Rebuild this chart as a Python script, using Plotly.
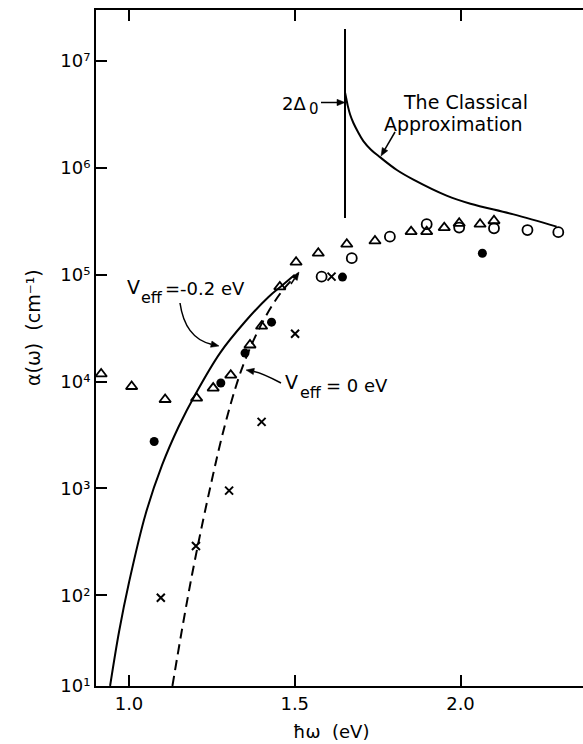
import math
import plotly.graph_objects as go

# ---------------- data ----------------
# open triangles
tri_x = [0.916, 1.008, 1.109, 1.204, 1.254, 1.307, 1.365, 1.400, 1.455, 1.504,
         1.571, 1.657, 1.742, 1.851, 1.898, 1.951, 1.996, 2.059, 2.101]
tri_y = [1.18e4, 9.0e3, 6.8e3, 7.0e3, 8.7e3, 1.15e4, 2.2e4, 3.3e4, 7.7e4, 1.31e5,
         1.59e5, 1.93e5, 2.07e5, 2.53e5, 2.53e5, 2.76e5, 3.03e5, 2.97e5, 3.2e5]
# open circles
circ_x = [1.581, 1.672, 1.787, 1.898, 1.996, 2.101, 2.202, 2.295]
circ_y = [9.6e4, 1.43e5, 2.27e5, 2.97e5, 2.76e5, 2.72e5, 2.62e5, 2.5e5]
# filled dots
dot_x = [1.076, 1.277, 1.350, 1.430, 1.644, 2.066]
dot_y = [2.75e3, 9.7e3, 1.85e4, 3.6e4, 9.5e4, 1.59e5]
# crosses
cross_x = [1.096, 1.202, 1.302, 1.400, 1.501, 1.611]
cross_y = [95, 290, 955, 4.2e3, 2.8e4, 9.6e4]

# V_eff = -0.2 eV (solid)
solid_x = [0.943, 0.970, 1.000, 1.050, 1.100, 1.150, 1.200, 1.275, 1.350, 1.420, 1.460, 1.500]
solid_y = [14.2, 45.7, 132, 575, 1660, 3800, 7590, 1.86e4, 3.63e4, 6.17e4, 7.85e4, 1.0e5]
# V_eff = 0 eV (dashed)
dash_x = [1.131, 1.160, 1.190, 1.220, 1.250, 1.280, 1.320, 1.350, 1.400, 1.460, 1.511]
dash_y = [14.2, 48, 155, 447, 1200, 3020, 8510, 1.58e4, 3.47e4, 6.92e4, 1.03e5]
# classical approximation
class_x = [1.652, 1.656, 1.660, 1.667, 1.677, 1.690, 1.707, 1.730, 1.757, 1.808,
           1.858, 1.958, 2.030, 2.160, 2.290]
class_y = [5.01e6, 4.37e6, 3.80e6, 3.16e6, 2.63e6, 2.19e6, 1.78e6, 1.48e6, 1.26e6,
           9.55e5, 7.76e5, 5.5e5, 4.62e5, 3.67e5, 2.82e5]
# 2 Delta_0 marker line
gap_x = [1.6516, 1.6516]
gap_y = [1.99e7, 3.4e5]

x_ticks = [1.0, 1.5, 2.0]
x_ticklabels = ["1.0", "1.5", "2.0"]
y_ticks = [14.2, 1e2, 1e3, 1e4, 1e5, 1e6, 1e7]
y_ticklabels = ["10¹", "10²", "10³", "10⁴", "10⁵", "10⁶", "10⁷"]

# ---------------- layout geometry ----------------
W, H = 583, 744
ML, MR, MT, MB = 96, 0, 10, 58
X_RANGE = [0.9005, 2.3695]
Y_RANGE = [1.152, 7.477]
FONT = "DejaVu Sans"


def PX(px):
    return (px - ML) / (W - ML - MR)


def PY(py):
    return (H - MB - py) / (H - MT - MB)


def label(px, py, text, size, xanchor="center", angle=0):
    return dict(xref="paper", yref="paper", x=PX(px), y=PY(py), text=text,
                showarrow=False, xanchor=xanchor, yanchor="middle", textangle=angle,
                borderpad=0, font=dict(family=FONT, size=size, color="black"))


def arrow(tail, head, ctrl=None, head_len=8.0, head_half=3.2, width=1.5):
    """Arrow decoration given in page pixels -> paper-referenced shapes."""
    src = ctrl if ctrl is not None else tail
    dx, dy = head[0] - src[0], head[1] - src[1]
    n = math.hypot(dx, dy)
    ux, uy = dx / n, dy / n
    bx, by = head[0] - ux * head_len, head[1] - uy * head_len
    px_, py_ = -uy, ux
    out = []
    if ctrl is not None:
        path = (f"M {PX(tail[0])},{PY(tail[1])} Q {PX(ctrl[0])},{PY(ctrl[1])} "
                f"{PX(bx)},{PY(by)}")
    else:
        path = f"M {PX(tail[0])},{PY(tail[1])} L {PX(bx)},{PY(by)}"
    out.append(dict(type="path", xref="paper", yref="paper", path=path,
                    line=dict(color="black", width=width)))
    tri = (f"M {PX(head[0])},{PY(head[1])} "
           f"L {PX(bx + px_ * head_half)},{PY(by + py_ * head_half)} "
           f"L {PX(bx - px_ * head_half)},{PY(by - py_ * head_half)} Z")
    out.append(dict(type="path", xref="paper", yref="paper", path=tri,
                    fillcolor="black", line=dict(color="black", width=0.5)))
    return out


fig = go.Figure()
line_k = dict(color="black", width=2)
fig.add_trace(go.Scatter(x=solid_x, y=solid_y, mode="lines",
                         line=dict(color="black", width=2, shape="spline")))
fig.add_trace(go.Scatter(x=dash_x, y=dash_y, mode="lines",
                         line=dict(color="black", width=2, shape="spline", dash="10px,6px")))
fig.add_trace(go.Scatter(x=class_x, y=class_y, mode="lines",
                         line=dict(color="black", width=2, shape="spline")))
fig.add_trace(go.Scatter(x=gap_x, y=gap_y, mode="lines", line=line_k))

fig.add_trace(go.Scatter(x=tri_x, y=tri_y, mode="markers",
                         marker=dict(symbol="triangle-up-open", size=10, color="black",
                                     line=dict(width=1.8, color="black"))))
fig.add_trace(go.Scatter(x=circ_x, y=circ_y, mode="markers",
                         marker=dict(symbol="circle-open", size=10, color="black",
                                     line=dict(width=1.8, color="black"))))
fig.add_trace(go.Scatter(x=dot_x, y=dot_y, mode="markers",
                         marker=dict(symbol="circle", size=9, color="black")))
fig.add_trace(go.Scatter(x=cross_x, y=cross_y, mode="markers",
                         marker=dict(symbol="x-thin-open", size=8, color="black",
                                     line=dict(width=2, color="black"))))

ann = [
    # 2 Delta_0
    label(294, 103.5, "2Δ", 18),
    label(313.5, 109.5, "0", 15),
    # V_eff = -0.2 eV
    label(133.5, 286.5, "V", 19),
    label(151.5, 298, "eff", 16),
    label(164, 288, "=-0.2 eV", 18, xanchor="left"),
    # V_eff = 0 eV
    label(291.5, 381.5, "V", 19),
    label(310.5, 393, "eff", 16),
    label(325, 385, "= 0 eV", 18, xanchor="left"),
    # classical approximation
    label(465, 102.5, "The Classical", 19),
    label(453, 123.5, "Approximation", 19),
    # axis titles
    label(33, 328, "α(ω)  (cm⁻¹)", 19, angle=-90),
    label(331, 731, "ħω  (eV)", 18),
]

shapes = []
shapes += arrow((321, 102.5), (345, 102.5))
shapes += arrow((180, 303), (219, 346), ctrl=(185, 338))
shapes += arrow((281, 383), (246, 370), ctrl=(262, 373))
shapes += arrow((395, 132), (381, 156))
shapes += arrow((291, 284), (299, 272))

fig.update_layout(
    width=W, height=H,
    margin=dict(l=ML, r=MR, t=MT, b=MB, pad=0),
    paper_bgcolor="white", plot_bgcolor="white",
    showlegend=False,
    font=dict(family=FONT, size=18, color="black"),
    annotations=ann,
    shapes=shapes,
    xaxis=dict(range=X_RANGE, tickvals=x_ticks, ticktext=x_ticklabels,
               ticks="inside", ticklen=11, tickwidth=2, tickcolor="black",
               showline=True, linewidth=2, linecolor="black", mirror="ticks",
               showgrid=False, zeroline=False, automargin=False),
    yaxis=dict(type="log", range=Y_RANGE, tickvals=y_ticks, ticktext=y_ticklabels,
               ticks="inside", ticklen=11, tickwidth=2, tickcolor="black",
               showline=True, linewidth=2, linecolor="black", mirror=False,
               showgrid=False, zeroline=False, automargin=False),
    yaxis2=dict(type="log", range=Y_RANGE, tickvals=y_ticks, overlaying="y", side="right",
                ticks="inside", ticklen=11, tickwidth=2, tickcolor="black",
                showticklabels=False, showline=False, showgrid=False, zeroline=False,
                automargin=False),
)

fig.write_html(
    "out.html",
    config={"displayModeBar": False},
    post_script="document.body.style.margin='0';document.body.style.overflow='hidden';",
)
